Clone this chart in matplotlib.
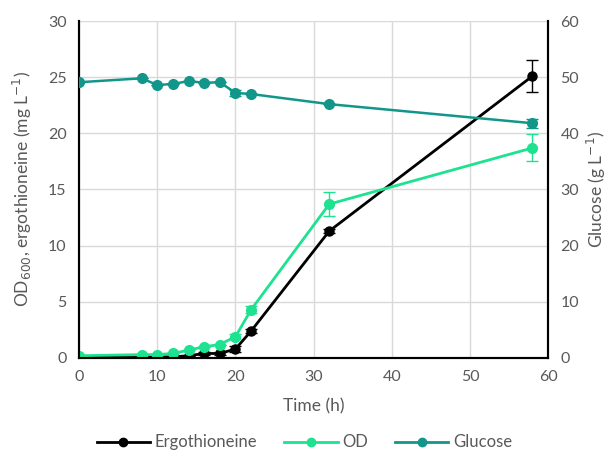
import numpy as np
import matplotlib.pyplot as plt
from matplotlib.lines import Line2D

plt.rcParams['font.family'] = ['Lato', 'DejaVu Sans']

# データ
time = [0, 8, 10, 12, 14, 16, 18, 20, 22, 32, 58]
ergo = [0.1, 0.1, 0.1, 0.1, 0.2, 0.4, 0.4, 0.8, 2.4, 11.3, 25.1]
ergo_err = [0, 0, 0, 0, 0, 0.1, 0.1, 0.3, 0.2, 0.2, 1.4]
od = [0.2, 0.3, 0.3, 0.4, 0.7, 1.0, 1.2, 1.9, 4.3, 13.7, 18.7]
od_err = [0, 0, 0, 0, 0, 0, 0, 0.2, 0.3, 1.1, 1.2]
glucose = [49.1, 49.8, 48.6, 48.8, 49.3, 49.0, 49.1, 47.2, 47.0, 45.2, 41.8]
glucose_err = [0, 0, 0, 0, 0, 0, 0, 0.6, 0, 0, 0.8]

c_ergo = '#000000'
c_od = '#1de28f'
c_glu = '#13968a'
gray = '#595959'

fig = plt.figure(figsize=(6.09, 4.54), dpi=100)
ax = fig.add_axes([0.13, 0.2115, 0.77, 0.7422])
ax2 = ax.twinx()

ax.errorbar(time, ergo, yerr=ergo_err, color=c_ergo, marker='o', ms=6.5, lw=2,
            capsize=4, elinewidth=1, zorder=3)
ax.errorbar(time, od, yerr=od_err, color=c_od, marker='o', ms=7, lw=2,
            capsize=4, elinewidth=1, zorder=4)
ax2.errorbar(time, glucose, yerr=glucose_err, color=c_glu, marker='o', ms=7, lw=1.8,
             capsize=4, elinewidth=1, zorder=3)

ax.set_xlim(0, 60)
ax.set_ylim(0, 30)
ax2.set_ylim(0, 60)
ax.set_xticks(range(0, 61, 10))
ax.set_yticks(range(0, 31, 5))
ax2.set_yticks(range(0, 61, 10))
ax.grid(True, color='#d9d9d9', lw=1)
ax.set_axisbelow(True)

for a in (ax, ax2):
    a.spines['top'].set_visible(False)
    for s in ('left', 'right', 'bottom'):
        a.spines[s].set_linewidth(1.5)
        a.spines[s].set_color('black')
    a.tick_params(length=0, labelsize=11.5, labelcolor=gray, pad=9)

ax.set_xlabel('Time (h)', fontsize=12.5, color=gray, labelpad=10)
ax.set_ylabel('OD$_{600}$, ergothioneine (mg L$^{-1}$)', fontsize=12.5, color=gray, labelpad=10)
ax2.set_ylabel('Glucose (g L$^{-1}$)', fontsize=12.5, color=gray, labelpad=4)

handles = [Line2D([], [], color=c, marker='o', ms=6, lw=2) for c in (c_ergo, c_od, c_glu)]
fig.legend(handles, ['Ergothioneine', 'OD', 'Glucose'], loc='lower center',
           bbox_to_anchor=(0.5, -0.025), ncol=3, frameon=False, fontsize=12,
           labelcolor=gray, handlelength=3.2, handletextpad=0.3, columnspacing=1.6)

fig.savefig('out.png', dpi=100)
